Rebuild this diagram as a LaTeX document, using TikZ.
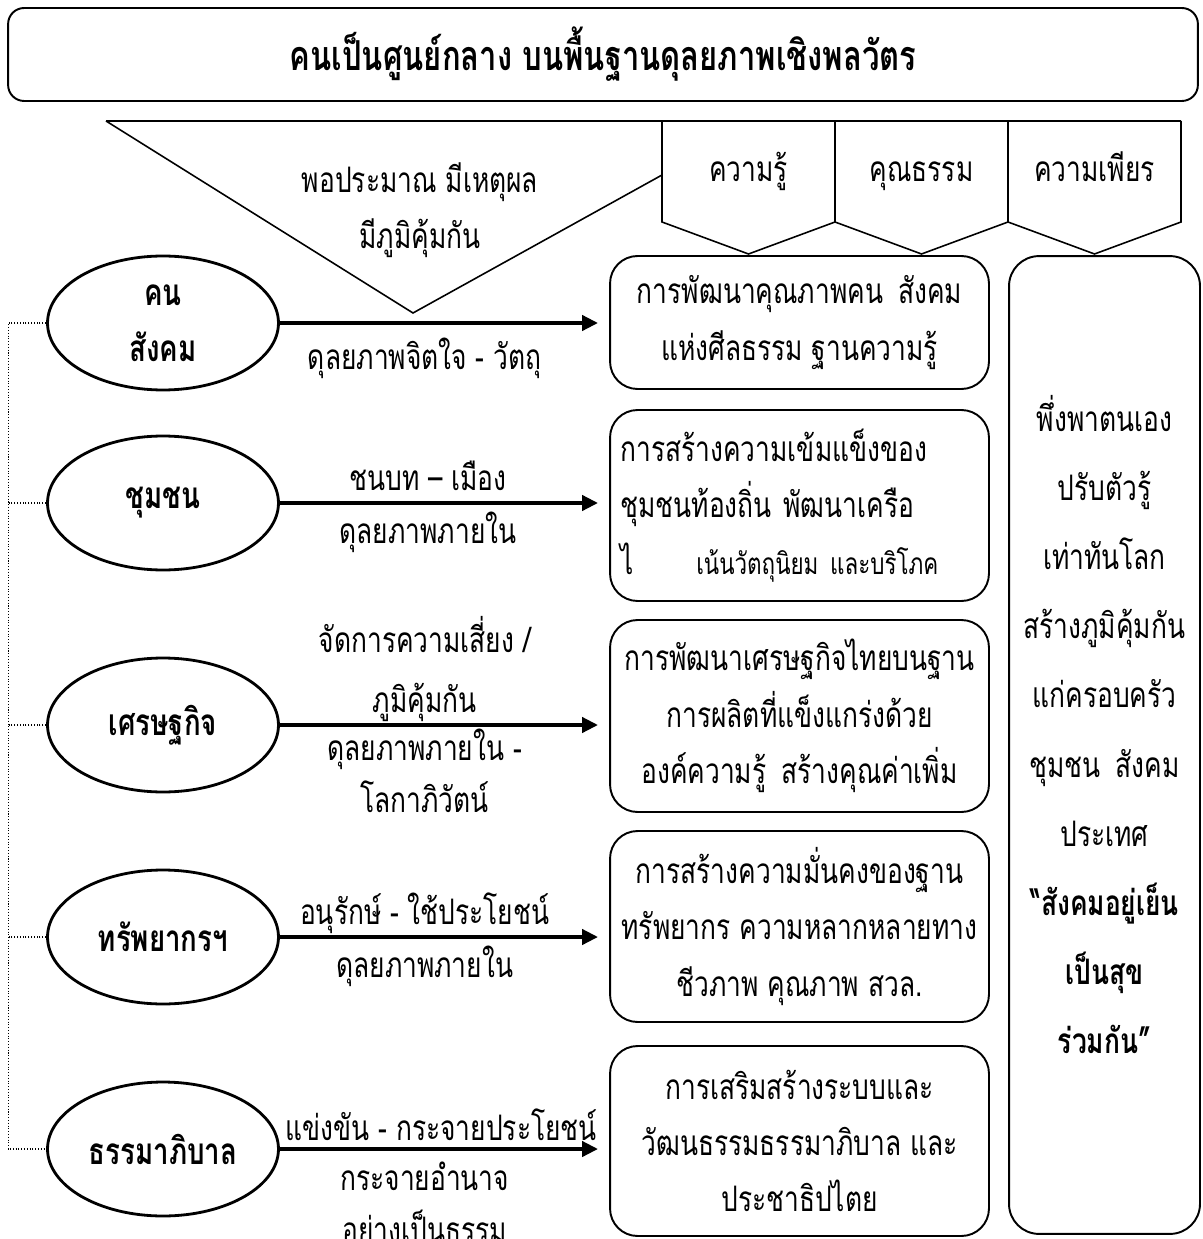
\documentclass[tikz,border=0pt]{standalone}
\usepackage{fontspec}
\setmainfont[Script=Thai, FakeStretch=0.75]{Loma}
\usetikzlibrary{shapes.geometric, positioning, arrows.meta}

\newcommand{\thaibody}{\fontsize{20}{32}\selectfont}
\newcommand{\thaiside}{\fontsize{20}{39.3}\selectfont}
\newcommand{\thaismall}{\fontsize{17}{32}\selectfont}
\newcommand{\widegap}{\hspace{0.3cm}}

\tikzset{
  titlebox/.style={draw, rounded corners=0.32cm, line width=1.1pt, minimum width=23.8cm, minimum height=1.86cm, font=\bfseries\fontsize{23.5}{28}\selectfont},
  ovalnode/.style={ellipse, draw, line width=1.6pt, minimum width=4.62cm, minimum height=2.68cm, inner sep=0pt, align=center, font=\bfseries\fontsize{21}{30}\selectfont},
  planbox/.style={draw, rounded corners=0.55cm, line width=1.1pt, minimum width=7.58cm, inner sep=0pt, align=center, font=\thaibody},
  sidebox/.style={draw, rounded corners=0.6cm, line width=1.1pt, minimum width=3.82cm, minimum height=19.56cm, inner sep=0pt},
  shapeline/.style={line width=0.9pt},
  arr/.style={line width=2.3pt, -{Triangle[length=0.32cm, width=0.3cm]}, shorten >=0.22cm},
  dotline/.style={densely dotted, line width=0.6pt},
  lbl/.style={align=center, inner sep=0pt, font=\fontsize{20}{29.5}\selectfont}
}

\begin{document}
\begin{tikzpicture}[x=0.02cm, y=-0.02cm]
  \useasboundingbox (0,0) rectangle (1202,1239);

  \node[titlebox] (title) at (603,54.5) {คนเป็นศูนย์กลาง บนพื้นฐานดุลยภาพเชิงพลวัตร};

  \draw[shapeline] (106,121) -- (1181,121);
  \draw[shapeline] (106,121) -- (413,313) -- (662,175);
  \node[lbl, font=\thaibody] (middle) at (420,210) {พอประมาณ มีเหตุผล\\มีภูมิคุ้มกัน};

  \foreach \x/\t [count=\i] in {662/ความรู้, 835/คุณธรรม, 1008/ความเพียร} {
    \draw[shapeline] (\x,121) -- (\x,222) -- (\x+86.5,254) -- (\x+173,222) -- (\x+173,121);
    \node[lbl, font=\thaibody, anchor=base] (p\i) at (\x+86.5,182) {\t};
  }

  \node[ovalnode] (e1) at (163,323) {คน\\[2pt]สังคม};
  \node[ovalnode] (e2) at (163,503) {ชุมชน};
  \node[ovalnode] (e3) at (163,725) {เศรษฐกิจ};
  \node[ovalnode] (e4) at (163,937) {ทรัพยากรฯ};
  \node[ovalnode] (e5) at (163,1149) {ธรรมาภิบาล};

  \node[planbox, minimum height=2.66cm] (b1) at (799.5,322.5) {การพัฒนาคุณภาพคน\widegap สังคม\\แห่งศีลธรรม ฐานความรู้};
  \node[planbox, minimum height=3.82cm, text width=7.16cm, align=left] (b2) at (799.5,505.5)
    {การสร้างความเข้มแข็งของ\\ชุมชนท้องถิ่น พัฒนาเครือ\\ไ\hspace{1.25cm}{\thaismall เน้นวัตถุนิยม และบริโภค}};
  \node[planbox, minimum height=3.84cm] (b3) at (799.5,716) {การพัฒนาเศรษฐกิจไทยบนฐาน\\การผลิตที่แข็งแกร่งด้วย\\องค์ความรู้\widegap สร้างคุณค่าเพิ่ม};
  \node[planbox, minimum height=3.82cm] (b4) at (799.5,926.5) {การสร้างความมั่นคงของฐาน\\ทรัพยากร ความหลากหลายทาง\\ชีวภาพ คุณภาพ สวล.};
  \node[planbox, minimum height=3.8cm] (b5) at (799.5,1141) {การเสริมสร้างระบบและ\\วัฒนธรรมธรรมาภิบาล และ\\ประชาธิปไตย};

  \node[sidebox] (rbox) at (1104.5,745) {};
  \node[lbl, font=\thaiside] (rtext) at ([yshift=0.41cm]rbox.center)
    {พึ่งพาตนเอง\\ปรับตัวรู้\\เท่าทันโลก\\สร้างภูมิคุ้มกัน\\แก่ครอบครัว\\ชุมชน\widegap สังคม\\ประเทศ\\\textbf{“สังคมอยู่เย็น}\\\textbf{เป็นสุข}\\\textbf{ร่วมกัน”}};

  \draw[arr] (e1.east) -- (e1.east -| b1.west)
    node[lbl, pos=.44, below=0.25cm] {ดุลยภาพจิตใจ - วัตถุ};
  \draw[arr] (e2.east) -- (e2.east -| b2.west)
    node[lbl, pos=.45, above=0.2cm] {ชนบท – เมือง}
    node[lbl, pos=.45, below=0.14cm] {ดุลยภาพภายใน};
  \draw[arr] (e3.east) -- (e3.east -| b3.west)
    node[lbl, pos=.44, above=0.02cm] {จัดการความเสี่ยง /\\[5pt]ภูมิคุ้มกัน}
    node[lbl, pos=.44, below=0.04cm] {ดุลยภาพภายใน -\\โลกาภิวัตน์};
  \draw[arr] (e4.east) -- (e4.east -| b4.west)
    node[lbl, pos=.44, above=0.02cm] {อนุรักษ์ - ใช้ประโยชน์}
    node[lbl, pos=.44, below=0.14cm] {ดุลยภาพภายใน};
  \draw[arr] (e5.east) -- (e5.east -| b5.west)
    node[lbl, pos=.49, above=0.12cm] {แข่งขัน - กระจายประโยชน์}
    node[lbl, pos=.44, below=0.22cm] {กระจายอำนาจ\\อย่างเป็นธรรม};

  \draw[dotline] (e1.west) -- ++(-38,0) |- (e5.west);
  \foreach \n in {e2,e3,e4} \draw[dotline] (\n.west) -- ++(-38,0);
\end{tikzpicture}
\end{document}
